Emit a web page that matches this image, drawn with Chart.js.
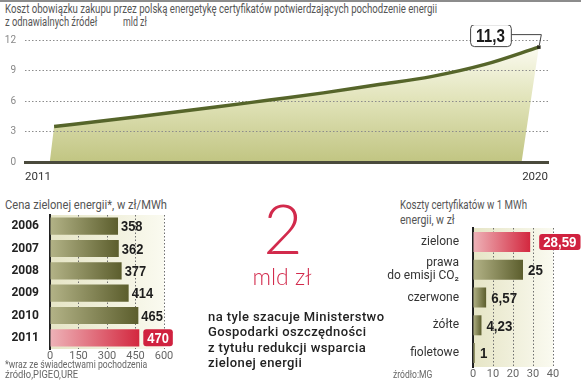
<!DOCTYPE html>
<html>
<head>
<meta charset="utf-8">
<script src="https://cdn.jsdelivr.net/npm/chart.js@4.4.1/dist/chart.umd.min.js"></script>
<style>
  body { margin: 0; width: 581px; height: 381px; background: #fff; position: relative; overflow: hidden; font-family: Roboto, sans-serif; }
  .abs { position: absolute; white-space: nowrap; }
  .fit { transform-origin: 0 0; }
  .title { color: #555; font-size: 12.5px; line-height: 13px; }
  .note { color: #666; font-size: 10.5px; line-height: 12px; }
  canvas { position: absolute; }
</style>
</head>
<body>
<div class="abs" style="left:0;top:0;width:581px;height:2px;background:#8c8c8c"></div>
<div class="abs fit title" data-w="432" style="left:5px;top:2px">Koszt obowiązku zakupu przez polską energetykę certyfikatów potwierdzających pochodzenie energii</div>
<div class="abs fit title" data-w="92" style="left:5px;top:15px">z odnawialnych źródeł</div>
<div class="abs fit title" data-w="24" style="left:123px;top:15px">mld zł</div>

<canvas id="costChart" width="581" height="165" style="left:0;top:25px"></canvas>

<div class="abs fit title" data-w="162" style="left:5px;top:198px;font-size:13px">Cena zielonej energii*, w zł/MWh</div>
<canvas id="priceChart" width="200" height="155" style="left:0;top:210px"></canvas>
<div class="abs fit note" data-w="142" style="left:5px;top:359px">*wraz ze świadectwami pochodzenia</div>
<div class="abs fit note" data-w="73" style="left:5px;top:369px">źródło,PIGEO,URE</div>

<div class="abs" style="left:230px;top:194px;width:106px;text-align:center;font-family:Lato,sans-serif;font-weight:300;font-size:68px;line-height:68px;color:#d22a4c">2</div>
<div class="abs" style="left:230px;top:265px;width:104px;text-align:center;font-family:Lato,sans-serif;font-weight:300;font-size:23px;line-height:23px;color:#d22a4c">mld zł</div>
<div class="abs" style="left:208px;top:309px;font-family:Roboto,sans-serif;font-weight:500;font-size:13px;letter-spacing:0.4px;line-height:15.3px;color:#222">na tyle szacuje Ministerstwo<br>Gospodarki oszczędności<br>z tytułu redukcji wsparcia<br>zielonej energii</div>

<div class="abs fit title" data-w="127" style="left:400px;top:198px;font-size:13px">Koszty certyfikatów w 1 MWh</div>
<div class="abs fit title" data-w="55" style="left:400px;top:213px;font-size:13px">energii, w zł</div>
<canvas id="certChart" width="203" height="160" style="left:378px;top:224px"></canvas>
<div class="abs fit note" data-w="39" style="left:393px;top:369px">źródło:MG</div>

<script>
// Top chart: cost of the certificate obligation, bn zł
const years = [2011, 2012, 2013, 2014, 2015, 2016, 2017, 2018, 2019, 2020];
const costValues = [3.5, 4.1, 4.75, 5.4, 6.1, 6.8, 7.6, 8.4, 9.6, 11.3];
const costTicks = ['2011', '2020'];
const areaFoot = [2010.92, 2019.68]; // where the shaded area meets the baseline

// Bottom left: green energy price, zł/MWh
const priceYears = ['2006', '2007', '2008', '2009', '2010', '2011'];
const priceValues = [358, 362, 377, 414, 465, 470];

// Bottom right: certificate costs per 1 MWh, zł
const certNames = ['zielone', ['prawa', 'do emisji CO₂'], 'czerwone', 'żółte', 'fioletowe'];
const certValues = [28.59, 25, 6.57, 4.23, 1];

// squeeze the narrow headline texts to the widths they have in the print
document.querySelectorAll('.fit').forEach(el => {
    el.style.transform = 'scaleX(' + (el.dataset.w / el.offsetWidth) + ')';
});

const numFont = '"Liberation Sans", Arial, sans-serif';
const fmt = v => String(v).replace('.', ',');

// condensed bold numbers: normal bold face squeezed horizontally
function narrowText(ctx, txt, x, y, align, k) {
    const w = ctx.measureText(txt).width * k;
    ctx.save();
    ctx.translate(align === 'center' ? x - w / 2 : x, y);
    ctx.scale(k, 1);
    ctx.textAlign = 'left';
    ctx.fillText(txt, 0, 0);
    ctx.restore();
    return w;
}

Chart.defaults.font.family = 'Roboto, sans-serif';
Chart.defaults.animation = false;
Chart.defaults.events = [];
Chart.defaults.plugins.legend.display = false;
Chart.defaults.plugins.tooltip.enabled = false;

// shaded area under the cost line, drawn before the grid so the dotted lines stay on top
const areaPlugin = {
    id: 'area',
    beforeDraw(chart) {
        const pts = chart.getDatasetMeta(0).data;
        const xs = chart.scales.x, ys = chart.scales.y;
        const ctx = chart.ctx;
        const base = ys.getPixelForValue(0);
        const g = ctx.createLinearGradient(0, base, 0, ys.getPixelForValue(11.5));
        g.addColorStop(0, '#c1c582');
        g.addColorStop(0.55, '#e2e4bb');
        g.addColorStop(1, '#fbfbf1');
        ctx.save();
        ctx.beginPath();
        ctx.moveTo(xs.getPixelForValue(areaFoot[0]), base);
        pts.forEach(p => ctx.lineTo(p.x, p.y));
        ctx.lineTo(xs.getPixelForValue(areaFoot[1]), base);
        ctx.closePath();
        ctx.fillStyle = g;
        ctx.fill();
        ctx.restore();
    }
};

// "11,3" callout next to the last point
const calloutPlugin = {
    id: 'callout',
    afterDatasetsDraw(chart) {
        const pts = chart.getDatasetMeta(0).data;
        const p = pts[pts.length - 1];
        const ctx = chart.ctx;
        const txt = fmt(costValues[costValues.length - 1]);
        ctx.save();
        ctx.font = 'bold 19px ' + numFont;
        const k = 0.8;
        const w = ctx.measureText(txt).width * k + 12, h = 22;
        const right = p.x - 28, top = p.y - 23;
        ctx.strokeStyle = '#444';
        ctx.lineWidth = 1;
        ctx.beginPath();
        ctx.moveTo(right, p.y - 12.5);
        ctx.lineTo(p.x + 2.5, p.y - 12.5);
        ctx.lineTo(p.x + 0.5, p.y - 2);
        ctx.stroke();
        ctx.fillStyle = '#fff';
        ctx.beginPath();
        ctx.roundRect(right - w + 0.5, top + 0.5, w, h, 4);
        ctx.fill();
        ctx.stroke();
        ctx.fillStyle = '#1a1a1a';
        ctx.textBaseline = 'middle';
        narrowText(ctx, txt, right - w / 2, top + h / 2 + 1.5, 'center', k);
        ctx.restore();
    }
};

new Chart(document.getElementById('costChart'), {
    type: 'line',
    data: {
        datasets: [{
            data: years.map((y, i) => ({ x: y, y: costValues[i] })),
            borderColor: '#56652a',
            borderWidth: 3.5,
            tension: 0.25,
            cubicInterpolationMode: 'monotone',
            pointRadius: years.map((y, i) => i === years.length - 1 ? 2.5 : 0),
            pointStyle: 'rect',
            pointBackgroundColor: '#2b2b1c',
            pointBorderWidth: 0
        }]
    },
    options: {
        responsive: false,
        layout: { autoPadding: false, padding: { top: 15, right: 33, left: 0, bottom: 0 } },
        scales: {
            x: {
                type: 'linear',
                min: 2010.46,
                max: 2020.17,
                afterBuildTicks: s => { s.ticks = [{ value: s.min }, { value: s.max }]; },
                afterFit: s => { s.height = 28; },
                grid: { display: false },
                border: { display: true, color: '#4a4a3c', width: 3 },
                ticks: {
                    align: 'inner',
                    padding: 0,
                    color: '#333',
                    font: { size: 11.5 },
                    callback: (v, i) => costTicks[i]
                }
            },
            y: {
                min: 0,
                max: 12,
                afterFit: s => { s.width = 25; },
                grid: { color: '#8c8c8c', drawTicks: false },
                border: { display: false, dash: [1.5, 2] },
                ticks: { stepSize: 3, padding: 9, color: '#888', font: { size: 10 } }
            }
        }
    },
    plugins: [areaPlugin, calloutPlugin]
});

// cream background of the bar panels
const panelPlugin = {
    id: 'panel',
    beforeDraw(chart) {
        const a = chart.chartArea, ctx = chart.ctx;
        const g = ctx.createLinearGradient(a.left, 0, a.right, 0);
        g.addColorStop(0, '#e6e5c6');
        g.addColorStop(1, '#fafaf0');
        ctx.save();
        ctx.fillStyle = g;
        ctx.fillRect(a.left, a.top, a.right - a.left, a.bottom - a.top);
        ctx.restore();
    }
};

function barChart(id, labels, values, o) {
    const labelPlugin = {
        id: 'values',
        afterDatasetsDraw(chart) {
            const ctx = chart.ctx;
            const k = 0.86;
            ctx.save();
            ctx.font = 'bold ' + o.labelSize + 'px ' + numFont;
            ctx.textBaseline = 'middle';
            chart.getDatasetMeta(0).data.forEach((bar, i) => {
                const txt = fmt(values[i]);
                if (i === o.highlight) {
                    const w = ctx.measureText(txt).width * k + 8;
                    const x = bar.x + o.boxGap;
                    ctx.fillStyle = '#d0223f';
                    ctx.beginPath();
                    ctx.roundRect(x, bar.y - o.boxH / 2, w, o.boxH, 3);
                    ctx.fill();
                    ctx.fillStyle = '#fff';
                    narrowText(ctx, txt, x + w / 2, bar.y + 1, 'center', k);
                } else {
                    ctx.fillStyle = '#1e1e1e';
                    narrowText(ctx, txt, bar.x + o.gap, bar.y + 1, 'left', k);
                }
            });
            ctx.restore();
        }
    };

    return new Chart(document.getElementById(id), {
        type: 'bar',
        data: {
            labels: labels,
            datasets: [{
                data: values,
                barPercentage: o.barPct,
                categoryPercentage: 1,
                backgroundColor: c => {
                    const chart = c.chart, xs = chart.scales.x;
                    if (!xs || !chart.chartArea) return '#7a7a4a';
                    const x0 = xs.getPixelForValue(0);
                    const x1 = Math.max(x0 + 4, xs.getPixelForValue(values[c.dataIndex]));
                    const g = chart.ctx.createLinearGradient(x0, 0, x1, 0);
                    if (c.dataIndex === o.highlight) {
                        g.addColorStop(0, '#eeb3b8');
                        g.addColorStop(1, '#d3283f');
                    } else {
                        g.addColorStop(0, '#b3b387');
                        g.addColorStop(1, '#5c5e2d');
                    }
                    return g;
                }
            }]
        },
        options: {
            indexAxis: 'y',
            responsive: false,
            layout: { autoPadding: false, padding: { top: o.padTop, right: o.padRight, left: 0, bottom: 0 } },
            scales: {
                x: {
                    min: 0,
                    max: o.max,
                    z: 1,
                    afterFit: s => { s.height = o.axisH; s.paddingLeft = 0; s.paddingRight = 0; },
                    grid: { color: '#6f6f6f', drawTicks: false },
                    border: { display: false, dash: [1.5, 2] },
                    ticks: { stepSize: o.step, padding: 1, color: '#666', font: { size: 11 } }
                },
                y: {
                    // keep the rows filling the whole panel height
                    afterFit: s => { s.width = o.axisW; s.paddingTop = 0; s.paddingBottom = 0; },
                    grid: { display: false },
                    border: { display: true, color: '#222', width: 2 },
                    ticks: { autoSkip: false, padding: o.tickPad, color: o.tickColor, font: o.tickFont }
                }
            }
        },
        plugins: [panelPlugin, labelPlugin]
    });
}

barChart('priceChart', priceYears, priceValues, {
    max: 600, step: 150, highlight: 5, barPct: 0.77,
    padTop: 5, padRight: 36, axisH: 16, axisW: 50, tickPad: 3,
    tickColor: '#222', tickFont: { size: 12, weight: 'bold' },
    labelSize: 15, gap: 3, boxGap: 4, boxH: 17
});

barChart('certChart', certNames, certValues, {
    max: 40, step: 10, highlight: 0, barPct: 0.72,
    padTop: 4, padRight: 28, axisH: 17, axisW: 95, tickPad: 6,
    tickColor: '#333', tickFont: { size: 12, lineHeight: 1.1 },
    labelSize: 15.5, gap: 5, boxGap: 9, boxH: 16
});
</script>
</body>
</html>
